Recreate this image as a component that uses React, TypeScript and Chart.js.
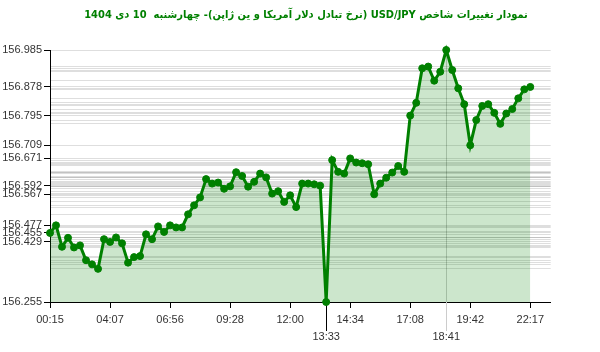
import React, { useEffect, useRef } from 'react';
import { Chart, registerables } from 'chart.js';

Chart.register(...registerables);

const TITLE = 'نمودار تغییرات شاخص USD/JPY (نرخ تبادل دلار آمریکا و ین ژاپن)- چهارشنبه  10 دی 1404';

const prices = [
  156.455, 156.477, 156.415, 156.441, 156.413, 156.419, 156.376, 156.364, 156.351, 156.437,
  156.429, 156.442, 156.425, 156.369, 156.385, 156.388, 156.451, 156.437, 156.474, 156.458,
  156.477, 156.471, 156.471, 156.509, 156.535, 156.558, 156.611, 156.598, 156.601, 156.583,
  156.590, 156.631, 156.620, 156.589, 156.603, 156.627, 156.616, 156.569, 156.576, 156.545,
  156.564, 156.530, 156.598, 156.598, 156.596, 156.592, 156.255, 156.666, 156.632, 156.627,
  156.671, 156.659, 156.657, 156.654, 156.567, 156.598, 156.615, 156.630, 156.649, 156.632,
  156.795, 156.832, 156.932, 156.937, 156.896, 156.922, 156.985, 156.927, 156.874, 156.828,
  156.709, 156.782, 156.823, 156.828, 156.803, 156.771, 156.801, 156.814, 156.845, 156.871,
  156.878,
];

const xTickIndex = [0, 10, 20, 30, 40, 50, 60, 70, 80];
const xTickLabels = ['00:15', '04:07', '06:56', '09:28', '12:00', '14:34', '17:08', '19:42', '22:17'];
const markerIndex = [46, 66];
const markerLabels = ['13:33', '18:41'];
const markerColors = ['#000000', '#cccccc'];

const yLabeled = [156.985, 156.878, 156.795, 156.709, 156.671, 156.592, 156.567, 156.477, 156.455, 156.429, 156.255];

const isLabeled = (v: number) => yLabeled.some((l) => Math.abs(l - v) < 1e-6);

const markerPlugin = {
  id: 'markerTicks',
  beforeDatasetsDraw(chart: any) {
    const xs = chart.scales.x;
    const ctx = chart.ctx;
    markerIndex.forEach((v, k) => {
      const px = Math.round(xs.getPixelForValue(v)) + 0.5;
      ctx.save();
      ctx.strokeStyle = markerColors[k];
      ctx.lineWidth = 1;
      ctx.beginPath();
      ctx.moveTo(px, xs.top);
      ctx.lineTo(px, xs.top + 29);
      ctx.stroke();
      ctx.restore();
    });
  },
};

const titlePlugin = {
  id: 'rtlTitle',
  afterDraw(chart: any) {
    const ctx = chart.ctx;
    ctx.save();
    ctx.direction = 'rtl';
    ctx.font = 'bold 11px "DejaVu Sans Condensed", "DejaVu Sans"';
    ctx.fillStyle = '#008000';
    ctx.textAlign = 'center';
    ctx.textBaseline = 'middle';
    ctx.fillText(TITLE, chart.width / 2 + 6, 15);
    ctx.restore();
  },
};

export default function App() {
  const ref = useRef<HTMLCanvasElement | null>(null);

  useEffect(() => {
    if (!ref.current) return;
    const yTickValues = Array.from(new Set([...prices, ...yLabeled])).sort((a, b) => a - b);
    const xTicks = [...xTickIndex, ...markerIndex].sort((a, b) => a - b);
    const green = 'rgb(0,128,0)';
    const chart = new Chart(ref.current, {
      type: 'line',
      data: {
        datasets: [
          {
            data: prices.map((p, i) => ({ x: i, y: p })),
            borderColor: green,
            borderWidth: 3,
            pointRadius: 3.5,
            pointBorderWidth: 1,
            pointBackgroundColor: green,
            pointBorderColor: green,
            backgroundColor: 'rgba(0,128,0,0.2)',
            fill: 'start',
            tension: 0,
            clip: false as any,
          },
        ],
      },
      options: {
        animation: false,
        responsive: false,
        layout: { padding: { left: 0, right: 49.3, top: 50, bottom: 0 } },
        plugins: {
          legend: { display: false },
          tooltip: { enabled: false },
          title: { display: false },
        },
        scales: {
          x: {
            type: 'linear',
            min: 0,
            max: 83.4,
            afterFit: (s: any) => {
              s.height = 50;
            },
            afterBuildTicks: (s: any) => {
              s.ticks = xTicks.map((v) => ({ value: v }));
            },
            border: { display: true, color: '#000', width: 1 },
            grid: {
              color: (c: any) => (c.tick && c.tick.value === 66 ? '#cccccc' : 'transparent'),
              tickColor: (c: any) =>
                c.tick && markerIndex.includes(c.tick.value) ? 'transparent' : '#000',
              tickLength: 6,
              lineWidth: 1,
            },
            ticks: {
              autoSkip: false,
              maxRotation: 0,
              minRotation: 0,
              padding: 4,
              color: '#333',
              font: { family: 'Liberation Sans', size: 11, lineHeight: 1.5 },
              callback: (v: any) => {
                const n = Number(v);
                const mi = markerIndex.indexOf(n);
                if (mi >= 0) return ['', markerLabels[mi]];
                const ti = xTickIndex.indexOf(n);
                return ti >= 0 ? xTickLabels[ti] : '';
              },
            },
          },
          y: {
            type: 'linear',
            min: 156.255,
            max: 156.985,
            afterFit: (s: any) => {
              s.width = 50;
            },
            afterBuildTicks: (s: any) => {
              s.ticks = yTickValues.map((v) => ({ value: v }));
            },
            border: { display: true, color: '#000', width: 1 },
            grid: {
              color: 'rgba(0,0,0,0.13)',
              lineWidth: 1,
              tickLength: 6,
              tickColor: (c: any) => (c.tick && isLabeled(c.tick.value) ? '#000' : 'transparent'),
            },
            ticks: {
              autoSkip: false,
              padding: 2,
              color: '#333',
              font: { family: 'Liberation Sans', size: 11 },
              callback: (v: any) => (isLabeled(Number(v)) ? Number(v).toFixed(3) : ''),
            },
          },
        },
      },
      plugins: [markerPlugin, titlePlugin],
    } as any);
    return () => chart.destroy();
  }, []);

  return (
    <div style={{ position: 'fixed', left: 0, top: 0, width: 600, height: 352 }}>
      <canvas ref={ref} width={600} height={352} style={{ display: 'block' }} />
    </div>
  );
}
